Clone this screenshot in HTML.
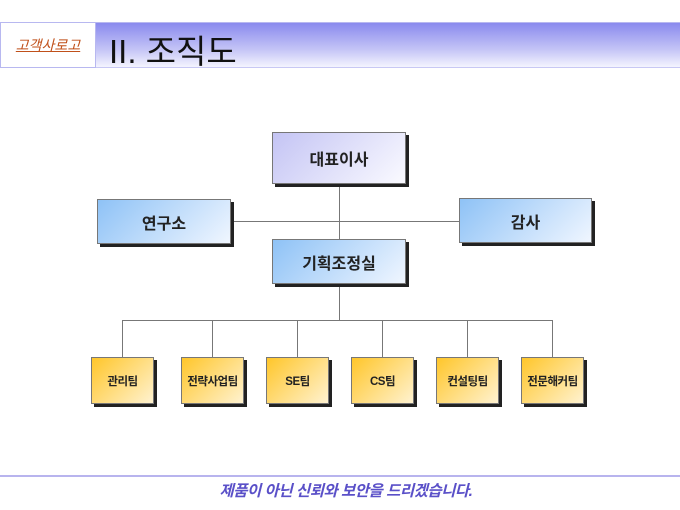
<!DOCTYPE html>
<html><head><meta charset="utf-8"><style>
body{margin:0;width:680px;height:510px;background:#fff;position:relative;overflow:hidden;font-family:"Liberation Sans","Noto Sans CJK KR",sans-serif}
.a{position:absolute}
.band{left:0;top:22px;width:680px;height:46px;background:linear-gradient(#8a8aee,#c4c4f6 60%,#f4f4fe);border-top:1px solid #b8b8f0;border-bottom:1px solid #c8c8f4;box-sizing:border-box}
.logo{left:0;top:22px;width:96px;height:46px;background:#fff;border:1px solid #b8b8f0;box-sizing:border-box;color:#c0501a;font-size:14px;text-decoration:underline;font-style:italic;display:flex;align-items:center;justify-content:center}
.title{left:109px;top:25px;font-size:33px;color:#111}
.b{position:absolute;box-sizing:border-box;border:1px solid #777;box-shadow:3px 3px 0 #222;display:flex;align-items:center;justify-content:center;font-weight:bold;color:#222}
.p{background:linear-gradient(135deg,#c4c4f4,#fafaff);font-size:16px}
.bl{background:linear-gradient(135deg,#8ec2f6,#f0f6ff);font-size:16px}
.y{background:linear-gradient(135deg,#ffc62a,#fff2d0);font-size:11.5px;letter-spacing:-0.5px}
.l{position:absolute;background:#777}
</style></head><body>
<div class="a band"></div>
<div class="a logo">고객사로고</div>
<div class="a title">II. 조직도</div>

<div class="l" style="left:339px;top:184px;width:1px;height:136px"></div>
<div class="l" style="left:231px;top:221px;width:228px;height:1px"></div>
<div class="l" style="left:122px;top:320px;width:431px;height:1px"></div>
<div class="l" style="left:122px;top:320px;width:1px;height:37px"></div>
<div class="l" style="left:212px;top:320px;width:1px;height:37px"></div>
<div class="l" style="left:297px;top:320px;width:1px;height:37px"></div>
<div class="l" style="left:382px;top:320px;width:1px;height:37px"></div>
<div class="l" style="left:467px;top:320px;width:1px;height:37px"></div>
<div class="l" style="left:552px;top:320px;width:1px;height:37px"></div>

<div class="b p" style="left:272px;top:132px;width:134px;height:52px">대표이사</div>
<div class="b bl" style="left:97px;top:199px;width:134px;height:45px">연구소</div>
<div class="b bl" style="left:459px;top:198px;width:133px;height:45px">감사</div>
<div class="b bl" style="left:272px;top:239px;width:134px;height:45px">기획조정실</div>

<div class="b y" style="left:91px;top:357px;width:63px;height:47px">관리팀</div>
<div class="b y" style="left:181px;top:357px;width:63px;height:47px">전략사업팀</div>
<div class="b y" style="left:266px;top:357px;width:63px;height:47px">SE팀</div>
<div class="b y" style="left:351px;top:357px;width:63px;height:47px">CS팀</div>
<div class="b y" style="left:436px;top:357px;width:63px;height:47px">컨설팅팀</div>
<div class="b y" style="left:521px;top:357px;width:63px;height:47px">전문해커팀</div>

<div class="a" style="left:0;top:475px;width:680px;height:2px;background:#b8b4ee"></div>
<div class="a" style="left:0;top:479px;width:692px;text-align:center;font-size:15.5px;font-weight:bold;font-style:italic;color:#5a50c8;letter-spacing:-0.5px">제품이 아닌 신뢰와 보안을 드리겠습니다.</div>
</body></html>
